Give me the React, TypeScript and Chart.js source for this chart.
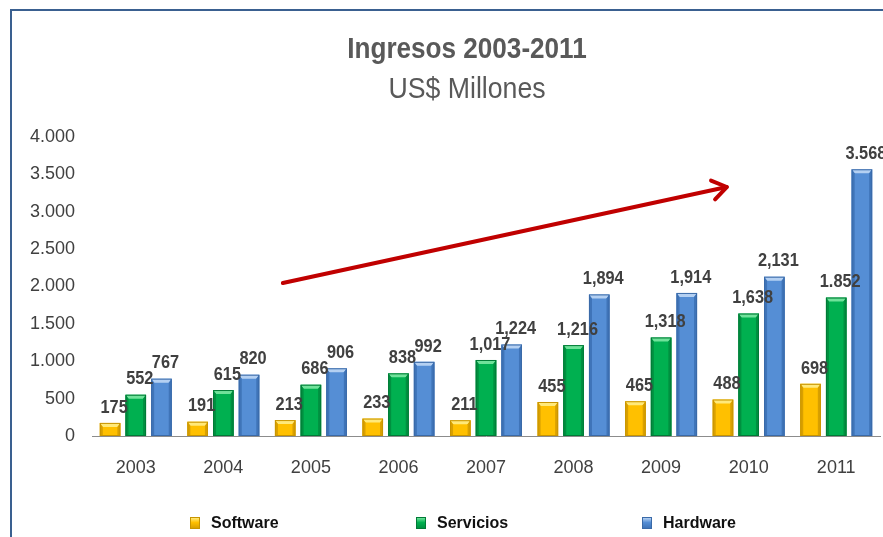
import React, { useEffect, useRef } from "react";
import { Chart, registerables } from "chart.js";

Chart.register(...registerables);

const years = ["2003", "2004", "2005", "2006", "2007", "2008", "2009", "2010", "2011"];
const software = [175, 191, 213, 233, 211, 455, 465, 488, 698];
const servicios = [552, 615, 686, 838, 1017, 1216, 1318, 1638, 1852];
const hardware = [767, 820, 906, 992, 1224, 1894, 1914, 2131, 3568];
const softwareLabels = ["175", "191", "213", "233", "211", "455", "465", "488", "698"];
const serviciosLabels = ["552", "615", "686", "838", "1,017", "1,216", "1,318", "1,638", "1.852"];
const hardwareLabels = ["767", "820", "906", "992", "1,224", "1,894", "1,914", "2,131", "3.568"];
const yTicks = [0, 500, 1000, 1500, 2000, 2500, 3000, 3500, 4000];
// trend arrow in data coordinates: [category index, value]
const arrowStart = [1.68, 2047];
const arrowEnd = [6.75, 3331];

const title = "Ingresos 2003-2011";
const subtitle = "US$ Millones";

const SANS = "'Liberation Sans', Arial, sans-serif";

const seriesStyle = [
  { name: "Software", fill: "#FFC000", light: "#FFE97A", dark: "#D9A000", border: "#C89400" },
  { name: "Servicios", fill: "#00B050", light: "#6FE29A", dark: "#009040", border: "#007A36" },
  { name: "Hardware", fill: "#558ED5", light: "#B4D0F2", dark: "#3F74B8", border: "#3A6AA8" },
];

const fmt = (v: number) => String(v).replace(/\B(?=(\d{3})+(?!\d))/g, ".");

const bevelPlugin = {
  id: "bevel",
  afterDatasetsDraw(chart: any) {
    const ctx = chart.ctx;
    chart.data.datasets.forEach((ds: any, di: number) => {
      const meta = chart.getDatasetMeta(di);
      const st = seriesStyle[di];
      meta.data.forEach((el: any) => {
        const { x, y, base, width } = el.getProps(["x", "y", "base", "width"], true);
        const l = x - width / 2;
        const r = x + width / 2;
        const b = 3;
        ctx.save();
        ctx.fillStyle = st.light;
        ctx.beginPath();
        ctx.moveTo(l, y);
        ctx.lineTo(r, y);
        ctx.lineTo(r - b, y + b + 1);
        ctx.lineTo(l + b, y + b + 1);
        ctx.closePath();
        ctx.fill();
        ctx.fillStyle = st.dark;
        ctx.beginPath();
        ctx.moveTo(l, y);
        ctx.lineTo(l + b, y + b + 1);
        ctx.lineTo(l + b, base);
        ctx.lineTo(l, base);
        ctx.closePath();
        ctx.fill();
        ctx.beginPath();
        ctx.moveTo(r, y);
        ctx.lineTo(r - b, y + b + 1);
        ctx.lineTo(r - b, base);
        ctx.lineTo(r, base);
        ctx.closePath();
        ctx.fill();
        ctx.strokeStyle = st.border;
        ctx.lineWidth = 1;
        ctx.strokeRect(l + 0.5, y + 0.5, width - 1, base - y - 1);
        ctx.restore();
      });
    });
  },
};

const labelPlugin = {
  id: "valueLabels",
  afterDatasetsDraw(chart: any) {
    const ctx = chart.ctx;
    const labels = [softwareLabels, serviciosLabels, hardwareLabels];
    chart.data.datasets.forEach((_ds: any, di: number) => {
      const meta = chart.getDatasetMeta(di);
      meta.data.forEach((el: any, i: number) => {
        ctx.save();
        ctx.translate(el.x + 4, el.y - 6);
        ctx.scale(0.86, 1);
        ctx.font = `bold 19px ${SANS}`;
        ctx.fillStyle = "#404040";
        ctx.textAlign = "center";
        ctx.textBaseline = "bottom";
        ctx.fillText(labels[di][i], 0, 0);
        ctx.restore();
      });
    });
  },
};

const arrowPlugin = {
  id: "trendArrow",
  afterDraw(chart: any) {
    const xs = chart.scales.x;
    const ys = chart.scales.y;
    const x1 = xs.getPixelForValue(arrowStart[0]);
    const y1 = ys.getPixelForValue(arrowStart[1]);
    const x2 = xs.getPixelForValue(arrowEnd[0]);
    const y2 = ys.getPixelForValue(arrowEnd[1]);
    const ctx = chart.ctx;
    const ang = Math.atan2(y2 - y1, x2 - x1);
    const head = 17;
    ctx.save();
    ctx.strokeStyle = "#C00000";
    ctx.lineWidth = 4;
    ctx.lineCap = "round";
    ctx.lineJoin = "round";
    ctx.beginPath();
    ctx.moveTo(x1, y1);
    ctx.lineTo(x2, y2);
    ctx.stroke();
    ctx.beginPath();
    ctx.moveTo(x2 - head * Math.cos(ang - 0.6), y2 - head * Math.sin(ang - 0.6));
    ctx.lineTo(x2, y2);
    ctx.lineTo(x2 - head * Math.cos(ang + 0.6), y2 - head * Math.sin(ang + 0.6));
    ctx.stroke();
    ctx.restore();
  },
};

function LegendMarker({ c }: { c: (typeof seriesStyle)[number] }) {
  return (
    <span
      style={{
        display: "inline-block",
        width: 10,
        height: 12,
        background: `linear-gradient(to bottom, ${c.light}, ${c.fill} 45%, ${c.dark})`,
        border: `1px solid ${c.border}`,
        boxSizing: "border-box",
        marginRight: 11,
        verticalAlign: "middle",
      }}
    />
  );
}

export default function App() {
  const canvasRef = useRef<HTMLCanvasElement | null>(null);

  useEffect(() => {
    if (!canvasRef.current) return;
    const chart = new Chart(canvasRef.current, {
      type: "bar",
      data: {
        labels: years,
        datasets: [software, servicios, hardware].map((d, i) => ({
          label: seriesStyle[i].name,
          data: d,
          backgroundColor: seriesStyle[i].fill,
          borderWidth: 0,
          barPercentage: 0.8,
          categoryPercentage: 0.88,
        })),
      },
      options: {
        animation: false,
        responsive: true,
        maintainAspectRatio: false,
        layout: { padding: { top: 137, right: 54, left: 0, bottom: 0 } },
        plugins: {
          legend: { display: false },
          title: { display: false },
          tooltip: { enabled: false },
        },
        scales: {
          x: {
            grid: { display: false, drawTicks: false },
            border: { display: true, color: "#8C8C8C", width: 1 },
            ticks: { color: "#404040", font: { family: SANS, size: 18 }, padding: 21 },
            afterFit: (s: any) => {
              s.height = 101;
            },
          },
          y: {
            min: 0,
            max: 4000,
            afterBuildTicks: (s: any) => {
              s.ticks = yTicks.map((v) => ({ value: v }));
            },
            grid: { display: false, drawTicks: false },
            border: { display: false },
            ticks: {
              color: "#404040",
              font: { family: SANS, size: 18 },
              padding: 17,
              callback: (v: any) => fmt(Number(v)),
            },
            afterFit: (s: any) => {
              s.width = 92;
            },
          },
        },
      },
      plugins: [bevelPlugin, labelPlugin, arrowPlugin],
    });
    return () => chart.destroy();
  }, []);

  return (
    <div
      style={{
        position: "fixed",
        left: 0,
        top: 0,
        width: 883,
        height: 537,
        overflow: "hidden",
        background: "#fff",
      }}
    >
      <div
        style={{
          position: "absolute",
          left: 10,
          top: 9,
          right: -20,
          bottom: -20,
          borderLeft: "2.5px solid #3A6090",
          borderTop: "2.5px solid #3A6090",
        }}
      />
      <div style={{ position: "absolute", left: 0, top: 0, width: 934, height: 537 }}>
        <canvas ref={canvasRef} />
      </div>
      <div
        style={{
          position: "absolute",
          left: 0,
          width: 934,
          top: 31,
          textAlign: "center",
          font: `bold 29px ${SANS}`,
          lineHeight: "34px",
          color: "#595959",
          transform: "scaleX(0.9)",
        }}
      >
        {title}
      </div>
      <div
        style={{
          position: "absolute",
          left: 0,
          width: 934,
          top: 71,
          textAlign: "center",
          font: `29px ${SANS}`,
          lineHeight: "34px",
          color: "#595959",
          transform: "scaleX(0.92)",
        }}
      >
        {subtitle}
      </div>
      <div
        style={{
          position: "absolute",
          left: 190,
          top: 512,
          display: "flex",
          font: `bold 16px ${SANS}`,
          lineHeight: "20px",
          color: "#111",
        }}
      >
        {seriesStyle.map((c) => (
          <div key={c.name} style={{ width: 226, whiteSpace: "nowrap" }}>
            <LegendMarker c={c} />
            <span style={{ verticalAlign: "middle" }}>{c.name}</span>
          </div>
        ))}
      </div>
    </div>
  );
}
